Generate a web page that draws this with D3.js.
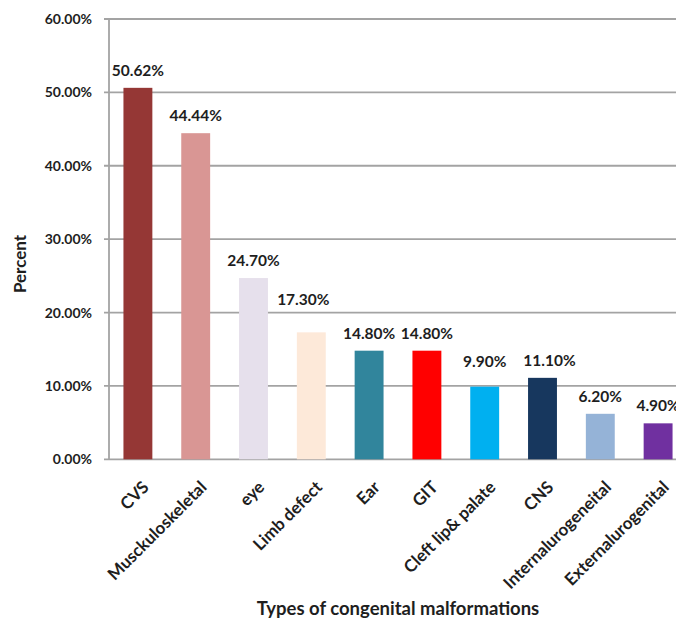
<!DOCTYPE html>
<html>
<head>
<meta charset="utf-8">
<script src="https://cdn.jsdelivr.net/npm/d3@7"></script>
<style>
  html, body { margin: 0; padding: 0; background: #fff; }
  svg { display: block; font-family: Lato, "Open Sans", sans-serif; }
</style>
</head>
<body>
<svg id="chart" width="676" height="620"></svg>
<script>
// Share of each type of congenital malformation (percent)
const categories = ["CVS", "Musckuloskeletal", "eye", "Limb defect", "Ear", "GIT",
  "Cleft lip& palate", "CNS", "Internalurogeneital", "Externalurogenital"];
const percents = [50.62, 44.44, 24.70, 17.30, 14.80, 14.80, 9.90, 11.10, 6.20, 4.90];
const barColors = ["#953735", "#d99694", "#e6e0ec", "#fde9d9", "#31859c", "#ff0000",
  "#00b0f0", "#17375e", "#95b3d7", "#7030a0"];
const yTicks = [0, 10, 20, 30, 40, 50, 60];

const svg = d3.select("#chart");
const plotLeft = 109, plotTop = 19, plotBottom = 459.3;
const step = 57.8;
const plotRight = plotLeft + step * categories.length;

const x = d3.scaleBand().domain(categories).range([plotLeft, plotRight]).paddingInner(0.5).paddingOuter(0.25);
const y = d3.scaleLinear().domain([0, 60]).range([plotBottom, plotTop]);

const textColor = "#1e1e1e";
const gridColor = "#a3a3a3";

// horizontal gridlines with short tick stubs left of the axis
svg.append("g").selectAll("line").data(yTicks).join("line")
  .attr("x1", plotLeft - 5).attr("x2", 676)
  .attr("y1", d => y(d)).attr("y2", d => y(d))
  .attr("stroke", gridColor).attr("stroke-width", 1.8);

// vertical value axis
svg.append("line")
  .attr("x1", plotLeft).attr("x2", plotLeft).attr("y1", plotTop).attr("y2", plotBottom)
  .attr("stroke", gridColor).attr("stroke-width", 1.8);

// tick labels
svg.append("g").selectAll("text").data(yTicks).join("text")
  .attr("x", plotLeft - 17).attr("y", d => y(d)).attr("dy", "0.36em")
  .attr("text-anchor", "end")
  .attr("font-size", 14).attr("font-weight", 700).attr("fill", textColor)
  .text(d => d3.format(".2f")(d) + "%");

// bars
svg.append("g").selectAll("rect").data(categories).join("rect")
  .attr("x", d => x(d)).attr("width", x.bandwidth())
  .attr("y", (d, i) => y(percents[i]))
  .attr("height", (d, i) => y(0) - y(percents[i]))
  .attr("fill", (d, i) => barColors[i]);

// value labels, a few nudged to keep clear of neighbours
const nudge = { "Limb defect": [-8, -15], "Cleft lip& palate": [0, -8], "CNS": [7, 0] };
svg.append("g").selectAll("text").data(categories).join("text")
  .attr("x", d => x(d) + x.bandwidth() / 2 + (nudge[d] ? nudge[d][0] : 0))
  .attr("y", (d, i) => y(percents[i]) - 12 + (nudge[d] ? nudge[d][1] : 0))
  .attr("text-anchor", "middle")
  .attr("font-size", 15.5).attr("font-weight", 700).attr("fill", textColor)
  .text((d, i) => d3.format(".2f")(percents[i]) + "%");

// rotated category labels
svg.append("g").selectAll("text").data(categories).join("text")
  .attr("transform", d => `translate(${x(d) + x.bandwidth() / 2 + 12},${plotBottom + 29}) rotate(-45)`)
  .attr("text-anchor", "end")
  .attr("font-size", 17).attr("font-weight", 700).attr("fill", textColor)
  .text(d => d);

// axis titles
svg.append("text")
  .attr("transform", "translate(26,264) rotate(-90)")
  .attr("text-anchor", "middle")
  .attr("font-size", 17).attr("font-weight", 700).attr("fill", textColor)
  .text("Percent");

svg.append("text")
  .attr("x", 398).attr("y", 615)
  .attr("text-anchor", "middle")
  .attr("font-size", 18.5).attr("font-weight", 700).attr("fill", textColor)
  .text("Types of congenital malformations");
</script>
</body>
</html>
